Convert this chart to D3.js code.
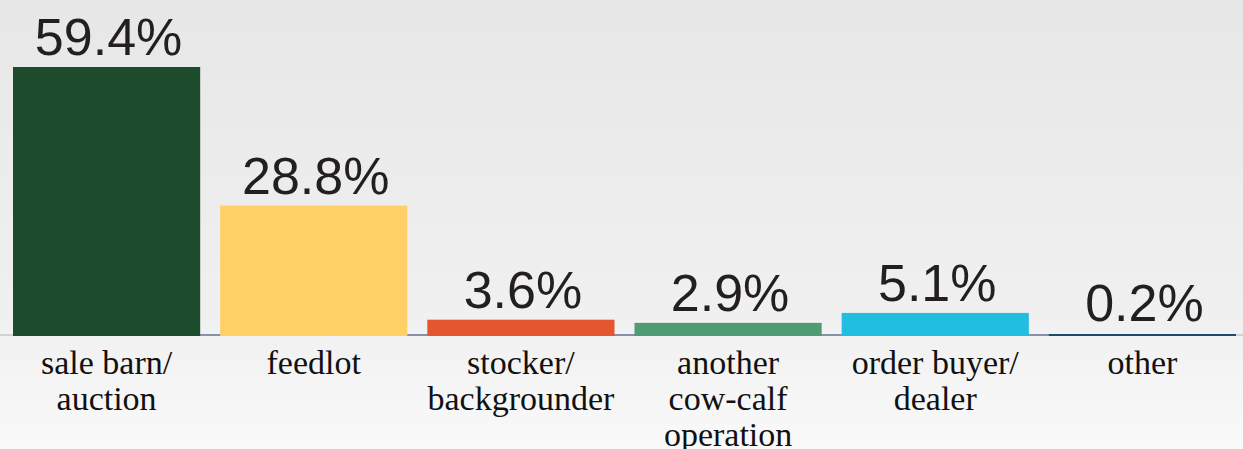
<!DOCTYPE html>
<html>
<head>
<meta charset="utf-8">
<script src="https://cdn.jsdelivr.net/npm/d3@7"></script>
<style>
html,body{margin:0;padding:0;overflow:hidden;}
</style>
</head>
<body>
<svg id="chart" width="1243" height="449"></svg>
<script>
const categories = ["sale barn/\nauction", "feedlot", "stocker/\nbackgrounder", "another\ncow-calf\noperation", "order buyer/\ndealer", "other"];
const values = [59.4, 28.8, 3.6, 2.9, 5.1, 0.2];
const valueLabels = ["59.4%", "28.8%", "3.6%", "2.9%", "5.1%", "0.2%"];
const colors = ["#1c4c2b", "#ffd066", "#e4572e", "#4f9b73", "#22bee1", "#1f4a6c"];

const W = 1243, H = 449;
const baseY = 336;
const svg = d3.select("#chart");

const defs = svg.append("defs");
const grad = defs.append("linearGradient").attr("id", "bg").attr("x1", 0).attr("y1", 0).attr("x2", 0).attr("y2", 1);
grad.append("stop").attr("offset", "0%").attr("stop-color", "#e7e7e7");
grad.append("stop").attr("offset", "70%").attr("stop-color", "#f0f0f0");
grad.append("stop").attr("offset", "100%").attr("stop-color", "#f9f9f9");
svg.append("rect").attr("width", W).attr("height", H).attr("fill", "url(#bg)");

const x = d3.scaleBand().domain(categories).range([3, 1246]).paddingInner(0.0965).paddingOuter(0.0483);
const y = d3.scaleLinear().domain([0, 59.4]).range([baseY, 67]);

// axis line
svg.append("rect").attr("x", 0).attr("y", baseY - 2).attr("width", W).attr("height", 2).attr("fill", "#d2d2d2");
svg.append("rect").attr("x", x(categories[0])).attr("y", baseY - 2)
  .attr("width", x(categories[5]) + x.bandwidth() - x(categories[0])).attr("height", 2).attr("fill", "#8791aa");

// bars
svg.selectAll("rect.bar").data(values).enter().append("rect")
  .attr("class", "bar")
  .attr("x", (d, i) => x(categories[i]))
  .attr("y", d => Math.min(y(d), baseY - 2))
  .attr("width", x.bandwidth())
  .attr("height", d => Math.max(baseY - y(d), 2))
  .attr("fill", (d, i) => colors[i]);

// value labels
svg.selectAll("text.val").data(values).enter().append("text")
  .attr("class", "val")
  .attr("x", (d, i) => x(categories[i]) + x.bandwidth() / 2 + 2)
  .attr("y", d => Math.min(y(d), baseY - 3) - 12)
  .attr("text-anchor", "middle")
  .attr("font-family", "Liberation Sans, Arial, sans-serif")
  .attr("font-size", 52)
  .attr("fill", "#231f20")
  .text((d, i) => valueLabels[i]);

// category labels
categories.forEach((c, i) => {
  const t = svg.append("text")
    .attr("x", x(c) + x.bandwidth() / 2)
    .attr("y", 374)
    .attr("text-anchor", "middle")
    .attr("font-family", "Liberation Serif, Times New Roman, serif")
    .attr("font-size", 34)
    .attr("fill", "#111");
  c.split("\n").forEach((line, j) => {
    t.append("tspan").attr("x", x(c) + x.bandwidth() / 2).attr("y", 374 + j * 36).text(line);
  });
});
</script>
</body>
</html>
